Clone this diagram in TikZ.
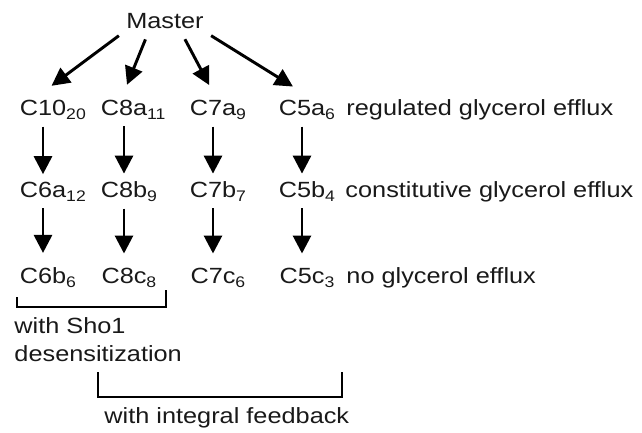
\documentclass[tikz,border=0pt]{standalone}
\usepackage{fontspec}
\setmainfont{Liberation Sans}[FakeStretch=1.15]
\usetikzlibrary{arrows.meta}

\newcommand{\idx}[1]{\rlap{\raisebox{-3pt}{\fontsize{11.5}{12}\selectfont #1}}}

\begin{document}
\begin{tikzpicture}[x=0.75pt,y=-0.75pt,
  line width=2.2pt,
  text node/.style={inner sep=4.5pt,text=black!90,font=\fontsize{16.5}{21}\selectfont},
  label node/.style={inner sep=0pt,text=black!90,font=\fontsize{16.5}{21}\selectfont},
  arrow line/.style={-{Triangle[length=13.5pt,width=13.5pt]}}]
  \useasboundingbox (0,0) rectangle (642,432);

  \node[text node,anchor=base] (m) at (165,28) {Master};

  \node[text node,anchor=base] (c10) at (43,115) {C10\idx{20}};
  \node[text node,anchor=base] (c8a) at (124,115) {C8a\idx{11}};
  \node[text node,anchor=base] (c7a) at (213,115) {C7a\idx{9}};
  \node[text node,anchor=base] (c5a) at (302,115) {C5a\idx{6}};

  \node[text node,anchor=base] (c6a) at (43,197) {C6a\idx{12}};
  \node[text node,anchor=base] (c8b) at (124,197) {C8b\idx{9}};
  \node[text node,anchor=base] (c7b) at (213,197) {C7b\idx{7}};
  \node[text node,anchor=base] (c5b) at (302,197) {C5b\idx{4}};

  \node[text node,anchor=base] (c6b) at (43,283) {C6b\idx{6}};
  \node[text node,anchor=base] (c8c) at (124,283) {C8c\idx{8}};
  \node[text node,anchor=base] (c7c) at (213,283) {C7c\idx{6}};
  \node[text node,anchor=base] (c5c) at (302,283) {C5c\idx{3}};

  \node[label node,anchor=base west] (reg) at (345,115) {regulated glycerol efflux};
  \node[label node,anchor=base west] (con) at (344,197) {constitutive glycerol efflux};
  \node[label node,anchor=base west] (noe) at (345,283) {no glycerol efflux};

  \node[label node,anchor=north west,align=left] (sho) at (13,316) {with Sho1\\desensitization};
  \node[label node,anchor=base west] (int) at (103,423) {with integral feedback};

  \path[arrow line]
   (m.south west) edge[shorten >=8pt] (c10.north)
   (m.-140) edge[shorten <=3pt,shorten >=6pt] (c8a.north)
   (m.-40) edge[shorten <=3pt,shorten >=6pt] (c7a.north)
   (m.south east) edge[shorten >=8pt] (c5a.north)
   (c10) edge (c6a)
   (c8a) edge (c8b)
   (c7a) edge (c7b)
   (c5a) edge (c5b)
   (c6a) edge[shorten >=5pt] (c6b)
   (c8b) edge[shorten >=5pt] (c8c)
   (c7b) edge[shorten >=5pt] (c7c)
   (c5b) edge[shorten >=5pt] (c5c);

  % brackets
  \draw (17,297) |- (166,307) -- (166,290);
  \draw (98,372) |- (342,397) -- (342,372);
\end{tikzpicture}
\end{document}
